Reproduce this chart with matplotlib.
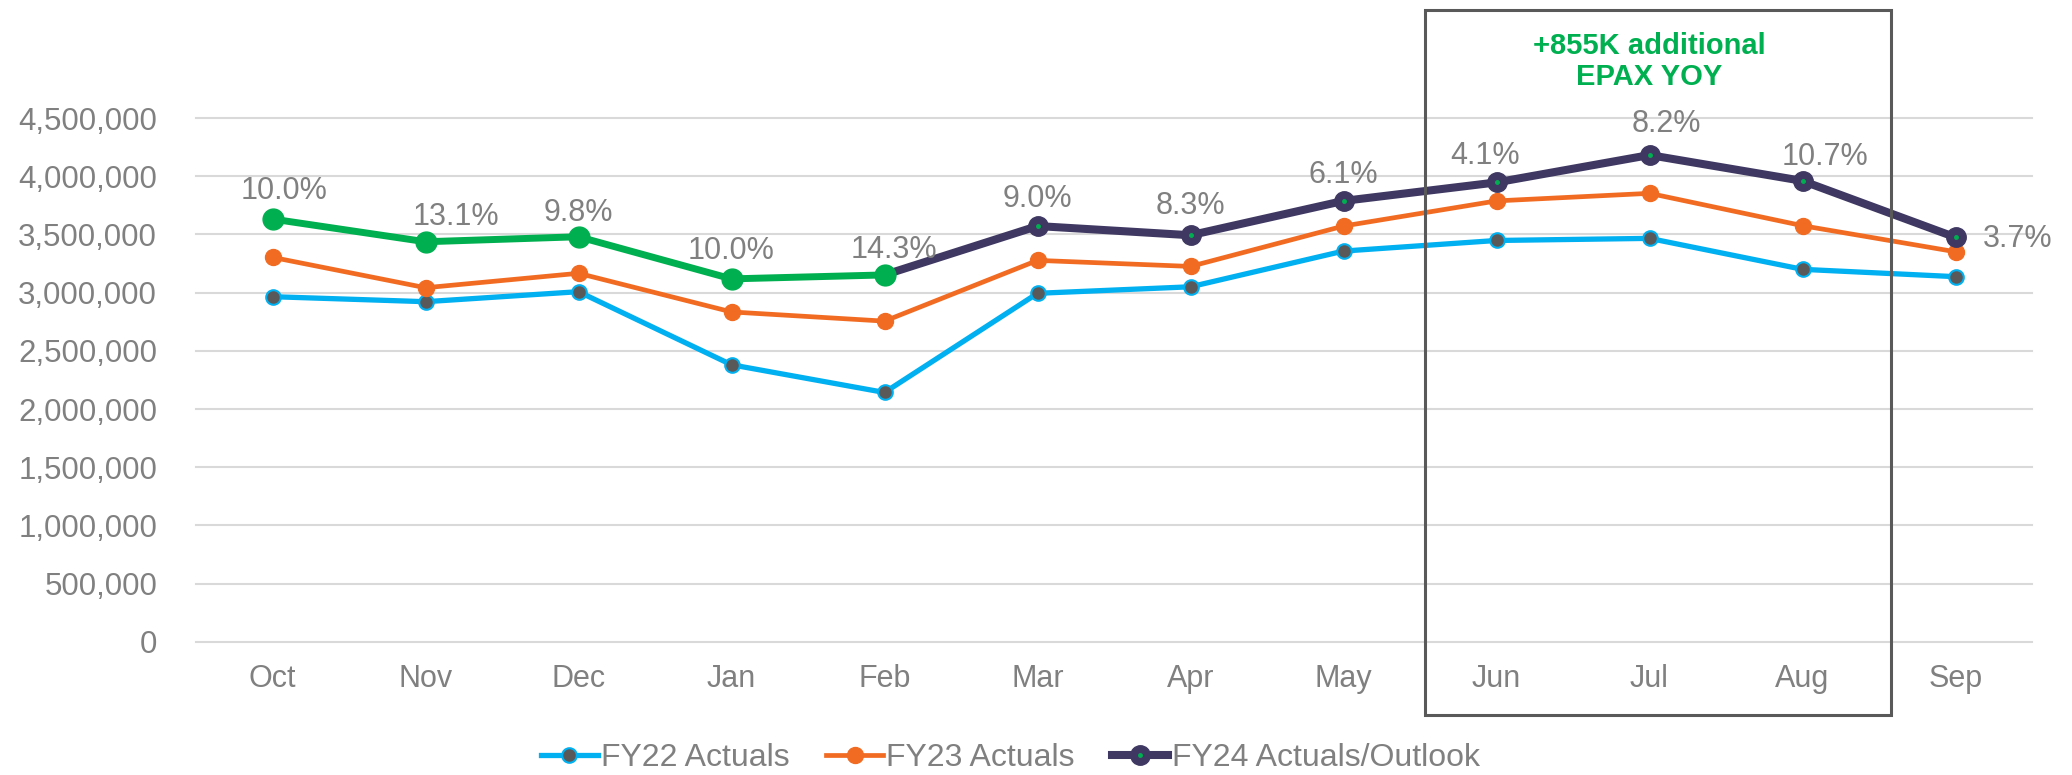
import matplotlib
matplotlib.use('Agg')
import matplotlib.pyplot as plt
from matplotlib.lines import Line2D
from matplotlib.patches import Rectangle
from matplotlib.ticker import FuncFormatter

plt.rcParams['font.family'] = ['Liberation Sans', 'DejaVu Sans']

months = ['Oct', 'Nov', 'Dec', 'Jan', 'Feb', 'Mar', 'Apr', 'May', 'Jun', 'Jul', 'Aug', 'Sep']
fy22 = [2965000, 2922000, 3008000, 2380000, 2142000, 2994000, 3050000, 3357000, 3448000, 3466000, 3200000, 3137000]
fy23 = [3303000, 3042000, 3166000, 2834000, 2755000, 3277000, 3225000, 3572000, 3788000, 3853000, 3575000, 3351000]
fy24 = [3632000, 3437000, 3480000, 3118000, 3152000, 3572000, 3493000, 3788000, 3947000, 4182000, 3960000, 3475000]
yoy = ['10.0%', '13.1%', '9.8%', '10.0%', '14.3%', '9.0%', '8.3%', '6.1%', '4.1%', '8.2%', '10.7%', '3.7%']
n_actual = 5  # Oct-Feb actuals drawn in green

# label offsets in pixels
offsets = [(12, 28), (30, 25), (0, 24), (0, 28), (9, 25), (0, 27), (0, 29), (0, 26),
           (-11, 26), (17, 31), (22, 24), (62, -2)]

BLUE = '#00B0F0'
ORANGE = '#F26B22'
NAVY = '#3F3862'
GREEN = '#00B050'
GREY = '#808080'

fig = plt.figure(figsize=(20.72, 7.75), dpi=100)
ax = fig.add_axes([0.0946, 0.1719, 0.8861, 0.6758])
x = list(range(len(months)))

l22, = ax.plot(x, fy22, color=BLUE, lw=3.8, marker='o', ms=10.5, mfc='#595959',
               mec=BLUE, mew=1.5, zorder=3, label='FY22 Actuals')
l23, = ax.plot(x, fy23, color=ORANGE, lw=3.4, marker='o', ms=11.5, mfc=ORANGE,
               mec=ORANGE, zorder=4, label='FY23 Actuals')
l24, = ax.plot(x[n_actual - 1:], fy24[n_actual - 1:], color=NAVY, lw=5.8, marker='o',
               ms=14, mfc=NAVY, mec=NAVY, zorder=5)
ax.plot(x[n_actual:], fy24[n_actual:], ls='none', marker='o', ms=2.5, color=GREEN, zorder=6)
ax.plot(x[:n_actual], fy24[:n_actual], color=GREEN, lw=5.0, marker='o', ms=15,
        mfc=GREEN, mec=GREEN, zorder=6)

for i, lab in enumerate(yoy):
    dx, dy = offsets[i]
    ax.annotate(lab, (x[i], fy24[i]), xytext=(dx, dy), textcoords='offset pixels',
                ha='center', va='center', fontsize=22, color=GREY, zorder=7)

ax.set_xlim(-0.5, len(months) - 0.5)
ax.set_ylim(0, 4500000)
ax.set_yticks(range(0, 4500001, 500000))
ax.yaxis.set_major_formatter(FuncFormatter(lambda v, p: f'{v:,.0f}'))
ax.set_xticks(x)
ax.set_xticklabels(months)
ax.tick_params(axis='y', length=0, pad=28, labelsize=22.5, labelcolor=GREY)
ax.tick_params(axis='x', length=0, pad=16, labelsize=22, labelcolor=GREY)
ax.grid(axis='y', color='#D9D9D9', lw=1.5)
for gl in ax.get_ygridlines():
    gl.set_clip_on(False)
ax.set_axisbelow(True)
for s in ax.spines.values():
    s.set_visible(False)

# highlight box Jun-Aug
ax.add_patch(Rectangle((7.53, -629000), 3.05, 6057000, fill=False, ec='#595959',
                       lw=2.2, clip_on=False, zorder=8))
ax.text(9, 4985000, '+855K additional\nEPAX YOY', ha='center', va='center',
        fontsize=21, fontweight='bold', color=GREEN, linespacing=1.1)

h24 = (Line2D([], [], color=NAVY, lw=5.8, marker='o', ms=14, mfc=NAVY, mec=NAVY),
       Line2D([], [], ls='none', marker='o', ms=2.5, color=GREEN))
leg = fig.legend([l22, l23, h24], ['FY22 Actuals', 'FY23 Actuals', 'FY24 Actuals/Outlook'],
                 loc='center', bbox_to_anchor=(0.4876, 0.022), ncol=3, frameon=False,
                 fontsize=23, handlelength=1.78, handletextpad=0.1, columnspacing=1.15)
for t in leg.get_texts():
    t.set_color(GREY)

fig.savefig('out.png', dpi=100)
